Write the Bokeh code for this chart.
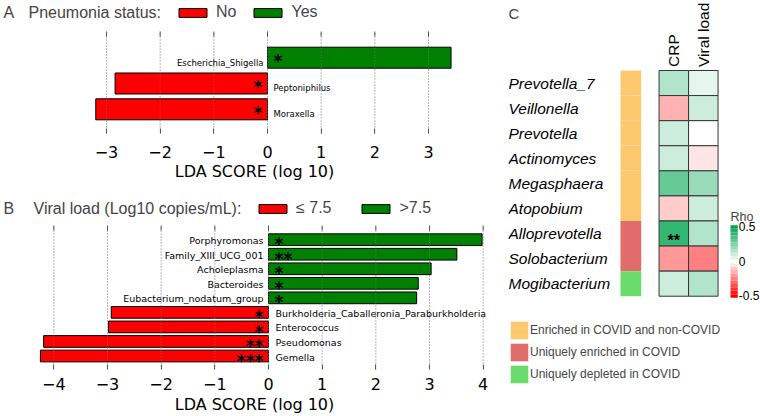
import numpy as np
from bokeh.plotting import figure
from bokeh.models import (ColumnDataSource, Range1d, LinearAxis, FixedTicker,
                          Legend, LegendItem, Label, LinearColorMapper)
from bokeh.layouts import row, column
from bokeh.core.properties import value
from bokeh.embed import file_html
from bokeh.resources import INLINE

# ---------------- data ----------------
# Panel A
a_taxa = ["Escherichia_Shigella", "Peptoniphilus", "Moraxella"]
a_lda = [3.42, -2.84, -3.20]
a_sig = ["*", "*", "*"]
a_groups = ["No", "Yes"]
a_ticks = [-3, -2, -1, 0, 1, 2, 3]

# Panel B
b_taxa = ["Porphyromonas", "Family_XIII_UCG_001", "Acholeplasma", "Bacteroides",
          "Eubacterium_nodatum_group", "Burkholderia_Caballeronia_Paraburkholderia",
          "Enterococcus", "Pseudomonas", "Gemella"]
b_lda = [3.98, 3.51, 3.03, 2.79, 2.76, -2.93, -2.98, -4.19, -4.25]
b_sig = ["*", "**", "*", "*", "*", "*", "*", "**", "***"]
b_groups = ["\u2264 7.5", ">7.5"]
b_ticks = [-4, -3, -2, -1, 0, 1, 2, 3, 4]

# Panel C
c_taxa = ["Prevotella_7", "Veillonella", "Prevotella", "Actinomyces", "Megasphaera",
          "Atopobium", "Alloprevotella", "Solobacterium", "Mogibacterium"]
c_vars = ["CRP", "Viral load"]
c_rho_crp = [0.16, -0.17, 0.12, 0.09, 0.29, -0.10, 0.39, -0.21, 0.08]
c_rho_vl = [0.07, 0.11, -0.01, -0.03, 0.19, 0.10, 0.15, -0.23, 0.16]
c_sig_crp = ["", "", "", "", "", "", "**", "", ""]
c_sig_vl = ["", "", "", "", "", "", "", "", ""]
c_classes = ["Enriched in COVID and non-COVID", "Uniquely enriched in COVID",
             "Uniquely depleted in COVID"]
c_class = [c_classes[0]] * 6 + [c_classes[1]] * 2 + [c_classes[2]]
c_rho_ticks = [-0.5, 0, 0.5]

# ---------------- styles ----------------
RED = "#FF0000"
GREEN = "#008000"
CLASS_COLORS = ["#FDC96F", "#E06C6C", "#6BDC6B"]
SANS = "Liberation Sans"
DJV = "DejaVu Sans"


def minus(t):
    return ("\u2212%g" % abs(t)) if t < 0 else "%g" % t


def lda_figure(letter, title, taxa, lda, sig, groups, ticks, fig_h, bottom,
               xlim, ylim, grid_top, tick_len, bar_h, lab_size, lab_dy, pos_dx, neg_dx,
               star_dy, leg_x, leg_y, leg_spacing, title_y, title_x,
               tl_standoff, al_standoff):
    n = len(taxa)
    ypos = [n - 1 - i for i in range(n)]
    neg = [i for i in range(n) if lda[i] < 0]
    pos = [i for i in range(n) if lda[i] >= 0]

    def src(idx):
        return ColumnDataSource(dict(
            y=[ypos[i] for i in idx], lda=[lda[i] for i in idx],
            name=[taxa[i] for i in idx], sig=[sig[i] for i in idx],
            zero=[0] * len(idx)))

    s_neg, s_pos = src(neg), src(pos)
    p = figure(width=508, height=fig_h, x_range=Range1d(*xlim), y_range=Range1d(*ylim),
               x_axis_location=None, y_axis_location=None, toolbar_location=None,
               output_backend="svg", min_border_left=0, min_border_right=0,
               min_border_top=0, min_border_bottom=bottom)
    p.outline_line_color = None
    p.grid.visible = False

    r_neg = p.hbar(y="y", left="zero", right="lda", height=bar_h, source=s_neg,
                   fill_color=RED, line_color="black", line_width=1)
    r_pos = p.hbar(y="y", left="zero", right="lda", height=bar_h, source=s_pos,
                   fill_color=GREEN, line_color="black", line_width=1)

    # dotted grid lines and top tick marks at the tick values
    gsrc = ColumnDataSource(dict(x=ticks, y0=[ylim[0]] * len(ticks),
                                 y1=[grid_top] * len(ticks),
                                 t0=[grid_top - tick_len] * len(ticks)))
    p.segment(x0="x", x1="x", y0="y0", y1="y1", source=gsrc, line_color="#707070",
              line_dash="1 2", line_width=1)
    p.segment(x0="x", x1="x", y0="t0", y1="y1", source=gsrc, line_color="#555555",
              line_width=1)

    # names
    p.text(x="zero", y="y", text="name", source=s_pos, text_align="right",
           text_baseline="middle", x_offset=pos_dx, y_offset=lab_dy,
           text_font=value(DJV), text_font_size=lab_size, text_color="black")
    p.text(x="zero", y="y", text="name", source=s_neg, text_align="left",
           text_baseline="middle", x_offset=neg_dx, y_offset=lab_dy,
           text_font=value(DJV), text_font_size=lab_size, text_color="black")
    # stars
    p.text(x="zero", y="y", text="sig", source=s_pos, text_align="left",
           text_baseline="middle", x_offset=6, y_offset=star_dy,
           text_font=value(DJV), text_font_style="bold", text_font_size="17px",
           text_color="black")
    p.text(x="zero", y="y", text="sig", source=s_neg, text_align="right",
           text_baseline="middle", x_offset=-5, y_offset=star_dy,
           text_font=value(DJV), text_font_style="bold", text_font_size="17px",
           text_color="black")

    overrides = {t: minus(t) for t in ticks}
    ax_b = LinearAxis(ticker=FixedTicker(ticks=ticks), major_label_overrides=overrides,
                      axis_label="LDA SCORE (log 10)", axis_line_color=None,
                      major_tick_in=5, major_tick_out=0, minor_tick_line_color=None,
                      major_tick_line_color="#555555",
                      major_label_text_font=DJV, major_label_text_font_size="16px",
                      major_label_text_color="black",
                      axis_label_text_font=DJV, axis_label_text_font_size="16px",
                      axis_label_text_font_style="normal", axis_label_text_color="black",
                      major_label_standoff=tl_standoff, axis_label_standoff=al_standoff)
    p.add_layout(ax_b, "below")

    leg = Legend(items=[LegendItem(label=groups[0], renderers=[r_neg]),
                        LegendItem(label=groups[1], renderers=[r_pos])],
                 orientation="horizontal", location=(leg_x, leg_y),
                 glyph_width=35, glyph_height=11, label_standoff=6, spacing=leg_spacing,
                 padding=0, margin=0, border_line_color=None, background_fill_alpha=0,
                 label_text_font=SANS, label_text_font_size="16px", label_height=11)
    p.add_layout(leg)

    p.add_layout(Label(x=3, y=title_y, x_units="screen", y_units="screen", text=letter,
                       text_font=SANS, text_font_size="16px", text_baseline="middle"))
    p.add_layout(Label(x=title_x, y=title_y, x_units="screen", y_units="screen", text=title,
                       text_font=SANS, text_font_size="16px", text_baseline="middle"))
    return p


pA = lda_figure("A", "Pneumonia status:", a_taxa, a_lda, a_sig, a_groups, a_ticks,
                fig_h=196, bottom=63, xlim=(-4.9749, 4.4904), ylim=(-0.938, 4.217),
                grid_top=3.0155, tick_len=0.194, bar_h=0.814, lab_size="8.5px", lab_dy=5,
                pos_dx=-4, neg_dx=6, star_dy=3.6, leg_x=175, leg_y=112, leg_spacing=14,
                title_y=121, title_x=28, tl_standoff=12, al_standoff=1)

pB = lda_figure("B", "Viral load (Log10 copies/mL):", b_taxa, b_lda, b_sig, b_groups, b_ticks,
                fig_h=220, bottom=47, xlim=(-4.9935, 4.4718), ylim=(-0.928, 10.971),
                grid_top=8.977, tick_len=0.344, bar_h=0.805, lab_size="9.5px", lab_dy=1,
                pos_dx=-5, neg_dx=7, star_dy=4.6, leg_x=255, leg_y=152, leg_spacing=27,
                title_y=161, title_x=33, tl_standoff=8, al_standoff=2)

# ---------------- Panel C ----------------
nrow = len(c_taxa)
pC = figure(width=252, height=416, x_range=Range1d(-5.6034, 2.939),
            y_range=Range1d(13.296, -3.291), x_axis_location=None, y_axis_location=None,
            toolbar_location=None, output_backend="svg",
            min_border_left=0, min_border_right=0, min_border_top=0, min_border_bottom=0)
pC.outline_line_color = None
pC.grid.visible = False
pC.extra_y_ranges = {"cb": Range1d(-2.2464, 3.7826)}

cb_centers = np.linspace(-0.5, 0.5, 21)
red_rgb = np.array([255, 0, 0])
white_rgb = np.array([255, 255, 255])
green_rgb = np.array([0, 166, 81])
palette = []
for v in cb_centers:
    end = red_rgb if v < 0 else green_rgb
    t = min(abs(v) / 0.5, 1.0)
    c = white_rgb + (end - white_rgb) * t
    palette.append("#%02x%02x%02x" % tuple(int(round(x)) for x in c))
mapper = LinearColorMapper(palette=palette, low=-0.525, high=0.525)

hm = dict(x=[], y=[], rho=[], sig=[])
for j, (vals, sigs) in enumerate([(c_rho_crp, c_sig_crp), (c_rho_vl, c_sig_vl)]):
    for i in range(nrow):
        hm["x"].append(j)
        hm["y"].append(i)
        hm["rho"].append(vals[i])
        hm["sig"].append(sigs[i])
s_hm = ColumnDataSource(hm)
pC.rect(x="x", y="y", width=1, height=1, source=s_hm,
        fill_color={"field": "rho", "transform": mapper}, line_color="#353535", line_width=1)
pC.text(x="x", y="y", text="sig", source=s_hm, text_align="center",
        text_baseline="alphabetic", y_offset=7, text_font=value(SANS),
        text_font_style="bold", text_font_size="16px", text_color="black")

# annotation column
ann_renderers = []
for k, cls in enumerate(c_classes):
    ys = [i for i in range(nrow) if c_class[i] == cls]
    s = ColumnDataSource(dict(y=ys, x=[-1.456] * len(ys)))
    r = pC.rect(x="x", y="y", width=0.702, height=1.0, source=s,
                fill_color=CLASS_COLORS[k], line_color=None)
    ann_renderers.append(r)

# row labels
s_rows = ColumnDataSource(dict(y=list(range(nrow)), name=c_taxa, x=[-5.6034] * nrow))
pC.text(x="x", y="y", text="name", source=s_rows, text_align="left", text_baseline="middle",
        text_font=value(SANS), text_font_style="italic", text_font_size="15.5px",
        text_color="black")

# column labels
s_cols = ColumnDataSource(dict(x=list(range(len(c_vars))), y=[-0.5] * len(c_vars), name=c_vars))
pC.text(x="x", y="y", text="name", source=s_cols, angle=np.pi / 2, text_align="left",
        text_baseline="middle", y_offset=-3.5, text_font=value(SANS),
        text_font_size="15.5px", text_color="black")

pC.add_layout(Label(x=0, y=403, x_units="screen", y_units="screen", text="C",
                    text_font=SANS, text_font_size="15px", text_baseline="middle"))

# colour key for Rho
cb_src = ColumnDataSource(dict(y=cb_centers, color=palette, x=[2.0458] * len(palette)))
pC.rect(x="x", y="y", width=0.2475, height=0.05, source=cb_src, fill_color="color",
        line_color=None, y_range_name="cb")
tk_src = ColumnDataSource(dict(y=c_rho_ticks, text=["%g" % t for t in c_rho_ticks],
                               x=[2.1696] * len(c_rho_ticks)))
pC.text(x="x", y="y", text="text", source=tk_src, y_range_name="cb", x_offset=1,
        text_align="left", text_baseline="middle", text_font=value(SANS),
        text_font_size="12px", text_color="black")
pC.add_layout(Label(x=222, y=200, x_units="screen", y_units="screen", text="Rho",
                    text_font=SANS, text_font_size="12.5px", text_baseline="middle"))

legC = Legend(items=[LegendItem(label=c_classes[k], renderers=[ann_renderers[k]])
                     for k in range(len(c_classes))],
              orientation="vertical", location=(0, 31), glyph_width=22, glyph_height=22,
              label_standoff=0, spacing=-5, padding=0, margin=0, border_line_color=None,
              background_fill_alpha=0, label_text_font=SANS, label_text_font_size="12px")
pC.add_layout(legC)

layout = row(column(pA, pB), pC)
open("out.html", "w").write(file_html(layout, INLINE))
